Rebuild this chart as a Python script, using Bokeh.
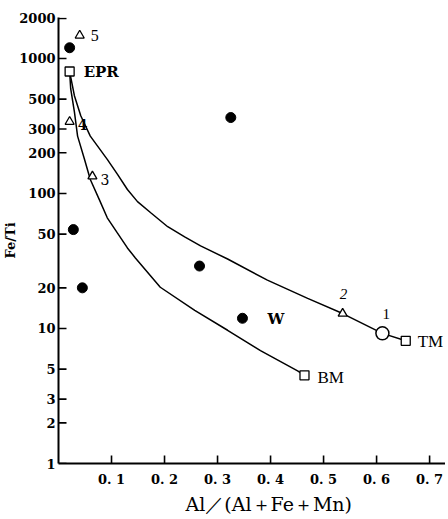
import math
from bokeh.plotting import figure
from bokeh.models import FixedTicker, Title
from bokeh.embed import file_html
from bokeh.resources import INLINE
from bokeh.core.properties import value

# ---- data ----
upper_x = [0.021, 0.030, 0.042, 0.060, 0.092, 0.111, 0.130, 0.149, 0.174, 0.206, 0.238, 0.268, 0.319,
           0.394, 0.470, 0.536, 0.611, 0.655]
upper_y = [800, 530, 376, 266, 179, 139, 107, 87, 72, 56.7, 47.7, 40.9, 32.7,
           22.8, 16.7, 12.9, 9.2, 8.1]
lower_x = [0.021, 0.023, 0.030, 0.036, 0.049, 0.060, 0.077, 0.092, 0.111, 0.130, 0.145, 0.192,
           0.257, 0.319, 0.381, 0.451, 0.464]
lower_y = [800, 597, 402, 266, 179, 127, 90, 66, 51, 39.5, 33.3, 20.2,
           13.6, 9.7, 6.85, 4.86, 4.5]

dot_x = [0.021, 0.028, 0.045, 0.266, 0.325, 0.347]
dot_y = [1200, 54, 20, 29, 365, 11.9]

tri_x = [0.536, 0.064, 0.021, 0.040]
tri_y = [12.9, 134, 340, 1480]
tri_labels = ["2", "3", "4", "5"]

sq_x = [0.021, 0.655, 0.464]
sq_y = [800, 8.1, 4.5]
sq_labels = ["EPR", "TM", "BM"]

open_x = [0.611]
open_y = [9.2]
open_labels = ["1"]

w_x = [0.347]
w_y = [11.9]
w_labels = ["W"]

x_ticks = [0.1, 0.2, 0.3, 0.4, 0.5, 0.6, 0.7]
x_tick_labels = ["0. 1", "0. 2", "0. 3", "0. 4", "0. 5", "0. 6", "0. 7"]
y_ticks = [1, 2, 3, 5, 10, 20, 50, 100, 200, 300, 500, 1000, 2000]
y_tick_labels = ["1", "2", "3", "5", "10", "20", "50", "100", "200", "300", "500", "1000", "2000"]

x_title = "Al／(Al＋Fe＋Mn)"
y_title = "Fe/Ti"

X_START, X_END = 0, 0.73
Y_START, Y_END = 1, 2010
FRAME_W, FRAME_H = 387, 446
TICK_LEN = 8  # px

SERIF_B = "DejaVu Serif"
SERIF = "Liberation Serif"

p = figure(frame_width=FRAME_W, frame_height=FRAME_H, x_range=(X_START, X_END), y_range=(Y_START, Y_END),
           y_axis_type="log", output_backend="svg", toolbar_location=None,
           min_border_left=53, min_border_right=0, min_border_top=17, min_border_bottom=0)
p.outline_line_color = None
p.grid.visible = False
p.background_fill_color = "white"

# axes
p.xaxis.ticker = FixedTicker(ticks=x_ticks)
p.xaxis.major_label_overrides = {t: l for t, l in zip(x_ticks, x_tick_labels)}
p.yaxis.ticker = FixedTicker(ticks=y_ticks)
p.yaxis.major_label_overrides = {t: l for t, l in zip(y_ticks, y_tick_labels)}
for ax in (p.xaxis[0], p.yaxis[0]):
    ax.axis_line_width = 2
    ax.axis_line_color = "black"
    ax.major_tick_in = 0
    ax.major_tick_out = 0
    ax.minor_tick_in = 0
    ax.minor_tick_out = 0
    ax.major_label_text_font = SERIF_B
    ax.major_label_text_font_style = "bold"
    ax.major_label_text_color = "black"

p.xaxis.major_label_text_font_size = "13px"
p.xaxis.major_label_standoff = 8

p.yaxis.major_label_text_font_size = "13px"
p.yaxis.major_label_standoff = 3
p.yaxis.axis_label = y_title
p.yaxis.axis_label_text_font = SERIF_B
p.yaxis.axis_label_text_font_style = "bold"
p.yaxis.axis_label_text_font_size = "13px"
p.yaxis.axis_label_standoff = -2
p.yaxis.axis_label_text_color = "black"

p.add_layout(Title(text=x_title, align="left", offset=127, standoff=2,
                   text_font="DejaVu Serif", text_font_style="normal",
                   text_font_size="19px", text_color="black"), "below")

# inward tick marks: dash markers of TICK_LEN px centred half a tick inside the frame
tick_xc = X_START + 0.5 * TICK_LEN * (X_END - X_START) / FRAME_W
tick_yc = Y_START * (Y_END / Y_START) ** (0.5 * TICK_LEN / FRAME_H)
y_tick_pos = [min(t, Y_START * (Y_END / Y_START) ** (1 - 1 / FRAME_H)) for t in y_ticks]
p.scatter([tick_xc] * len(y_ticks), y_tick_pos, marker="dash", size=TICK_LEN,
          line_color="black", line_width=1.6)
p.scatter(x_ticks, [tick_yc] * len(x_ticks), marker="dash", angle=math.pi / 2, size=TICK_LEN,
          line_color="black", line_width=1.6)

# curves
p.line(upper_x, upper_y, line_color="black", line_width=1.5)
p.line(lower_x, lower_y, line_color="black", line_width=1.5)

# markers
p.scatter(dot_x, dot_y, marker="circle", size=10, fill_color="black", line_color="black")
p.scatter(tri_x, tri_y, marker="triangle", size=9, fill_color="white", line_color="black", line_width=1.3)
p.scatter(sq_x, sq_y, marker="square", size=9, fill_color="white", line_color="black", line_width=1.3)
p.scatter(open_x, open_y, marker="circle", size=13, fill_color="white", line_color="black", line_width=1.5)

# point labels: x_offset, y_offset, font, style, size
label_style = {
    "2": (-3, -20, SERIF, "italic", "15px"),
    "3": (8, 3, SERIF_B, "normal", "14px"),
    "4": (8, 3, SERIF_B, "bold", "14px"),
    "5": (11, 0, SERIF, "normal", "16px"),
    "EPR": (14, 0, SERIF_B, "bold", "15px"),
    "TM": (12, 1, SERIF, "normal", "17px"),
    "BM": (13, 2, SERIF, "normal", "17px"),
    "1": (0, -19, SERIF, "normal", "15px"),
    "W": (25, 1, SERIF_B, "bold", "15px"),
}
for xs, ys, labs in ((tri_x, tri_y, tri_labels), (sq_x, sq_y, sq_labels),
                     (open_x, open_y, open_labels), (w_x, w_y, w_labels)):
    for x, y, lab in zip(xs, ys, labs):
        dx, dy, font, style, size = label_style[lab]
        p.text([x], [y], text=[lab], x_offset=dx, y_offset=dy,
               text_font=value(font), text_font_style=style, text_font_size=size,
               text_align="left", text_baseline="middle", text_color="black")

open("out.html", "w").write(file_html(p, INLINE))
